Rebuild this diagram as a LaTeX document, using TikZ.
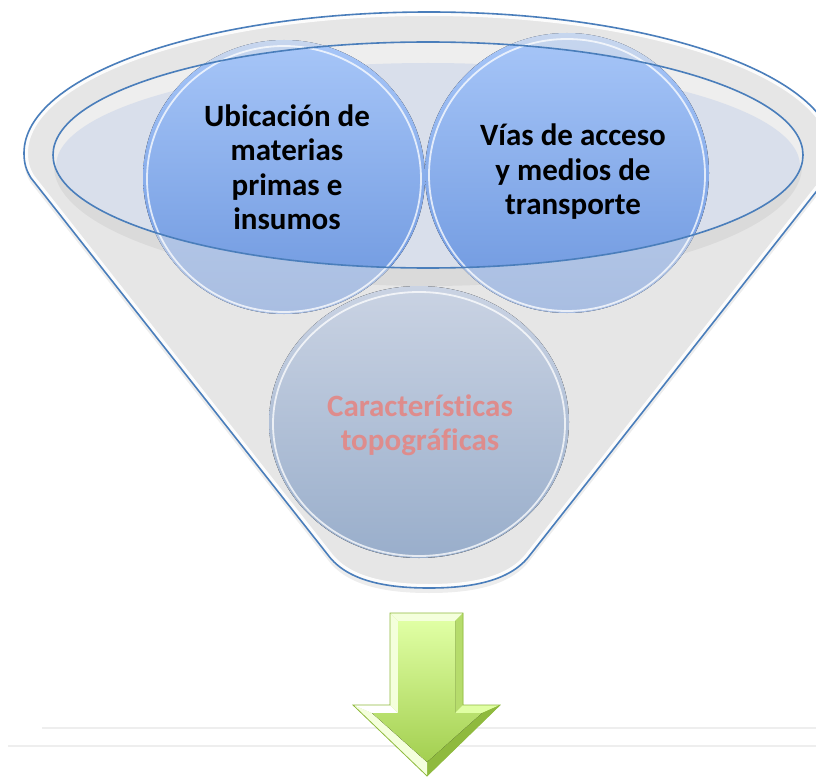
\documentclass[tikz,border=0pt]{standalone}
\usepackage{fontspec}
\setmainfont{Carlito}[Ligatures={NoCommon,NoContextual}]
\definecolor{funblue}{HTML}{4A7EBB}
\definecolor{rimgray}{HTML}{E6E6E6}
\definecolor{innergray}{HTML}{EEEEEE}
\definecolor{lav}{HTML}{D9DFEB}
\definecolor{cirtop}{HTML}{A7C6F8}
\definecolor{cirbot}{HTML}{6C96DE}
\definecolor{bctop}{HTML}{CAD3E3}
\definecolor{bcbot}{HTML}{99AECB}
\definecolor{salmon}{HTML}{DE8C8C}
\definecolor{faintline}{HTML}{EEEEEE}
\definecolor{grtop}{HTML}{E0FFA4}
\definecolor{grbot}{HTML}{A3CF50}
\definecolor{grdark}{HTML}{8FBA3E}
\definecolor{grmid}{HTML}{B6DC6C}
\definecolor{grlight}{HTML}{F4FFDC}
\begin{document}
\begin{tikzpicture}[x=1pt,y=-1pt,
  label/.style={align=center, font=\bfseries\fontsize{31}{34.5}\selectfont, inner sep=0pt},
  outline/.style={draw=funblue, line width=1.6pt},
  gloss/.style={draw=white, opacity=0.75, line width=1.8pt},
  faint/.style={draw=faintline, line width=1.4pt}]
\useasboundingbox (0,0) rectangle (816,778);
\fill[white] (0,0) rectangle (816,778);
% faint horizontal lines
\coordinate (l1a) at (42,728); \coordinate (l1b) at (816,728);
\coordinate (l2a) at (8,746);  \coordinate (l2b) at (816,746);
\draw[faint] (l1a) -- (l1b);
\draw[faint] (l2a) -- (l2b);
% funnel
\def\funnelpath{(24,153) arc[start angle=180, end angle=360, x radius=405, y radius=141] .. controls (834,163) and (832,170) .. (827,178) -- (530,555) .. controls (510,582) and (469,588) .. (429,588) .. controls (389,588) and (348,582) .. (328,555) -- (31,178) .. controls (26,170) and (24,163) .. cycle}
\fill[black, opacity=0.07, shift={(0,5)}] \funnelpath;
\fill[rimgray] \funnelpath;
\begin{scope}
  \clip \funnelpath;
  \draw[white, line width=8pt, opacity=0.9] \funnelpath;
\end{scope}
% inner opening
\fill[black, opacity=0.05] (428,166) ellipse [x radius=374, y radius=120];
\begin{scope}
  \clip (428,155) ellipse [x radius=375, y radius=113];
  \fill[innergray] (428,155) ellipse [x radius=375, y radius=113];
  \fill[lav] (428,166) ellipse [x radius=372, y radius=103];
\end{scope}
% bottom circle
\fill[top color=bctop, bottom color=bcbot] (419,422) ellipse [x radius=150, y radius=136];
\draw[gloss] (419,424) ellipse [x radius=146, y radius=132];
% top circles
\fill[top color=cirtop, bottom color=cirbot] (284,177) ellipse [x radius=141, y radius=137];
\fill[top color=cirtop, bottom color=cirbot] (567,173) ellipse [x radius=142, y radius=140];
\begin{scope}[even odd rule]
  \clip (0,0) rectangle (816,778) (428,155) ellipse [x radius=375, y radius=113];
  \fill[rimgray, opacity=0.5] (284,177) ellipse [x radius=141, y radius=137];
  \fill[rimgray, opacity=0.5] (567,173) ellipse [x radius=142, y radius=140];
\end{scope}
\draw[gloss] (284,179) ellipse [x radius=137, y radius=133];
\draw[gloss] (567,175) ellipse [x radius=138, y radius=136];
% funnel lines
\draw[outline] (428,155) ellipse [x radius=375, y radius=113];
\draw[outline] \funnelpath;
% texts
\node[label] (t1) at (287,167) {Ubicación de\\materias\\primas e\\insumos};
\node[label] (t2) at (573,172) {Vías de acceso\\y medios de\\transporte};
\node[label, text=salmon] (t3) at (420,425) {Características\\topográficas};
% green arrow
\coordinate (O1) at (390,613); \coordinate (O2) at (463,613);
\coordinate (O3) at (463,705); \coordinate (O4) at (500,705);
\coordinate (O5) at (427,776); \coordinate (O6) at (353,705);
\coordinate (O7) at (390,705);
\coordinate (I1) at (398,621); \coordinate (I2) at (455,621);
\coordinate (I3) at (455,713); \coordinate (I4) at (482,713);
\coordinate (I5) at (427,762); \coordinate (I6) at (372,713);
\coordinate (I7) at (398,713);
\fill[grmid] (O1) -- (O2) -- (O3) -- (O4) -- (O5) -- (O6) -- (O7) -- cycle;
\fill[grlight] (O1) -- (O2) -- (I2) -- (I1) -- cycle;
\fill[grmid] (O2) -- (O3) -- (I3) -- (I2) -- cycle;
\fill[grtop] (O3) -- (O4) -- (I4) -- (I3) -- cycle;
\fill[grdark] (O4) -- (O5) -- (I5) -- (I4) -- cycle;
\fill[grlight] (O5) -- (O6) -- (I6) -- (I5) -- cycle;
\fill[white] (O6) -- (O7) -- (I7) -- (I6) -- cycle;
\fill[grlight] (O7) -- (O1) -- (I1) -- (I7) -- cycle;
\fill[top color=grtop, bottom color=grbot] (I1) -- (I2) -- (I3) -- (I4) -- (I5) -- (I6) -- (I7) -- cycle;
\draw[grdark, line width=0.8pt, line join=miter] (O1) -- (O2) -- (O3) -- (O4) -- (O5) -- (O6) -- (O7) -- cycle;
\end{tikzpicture}
\end{document}
